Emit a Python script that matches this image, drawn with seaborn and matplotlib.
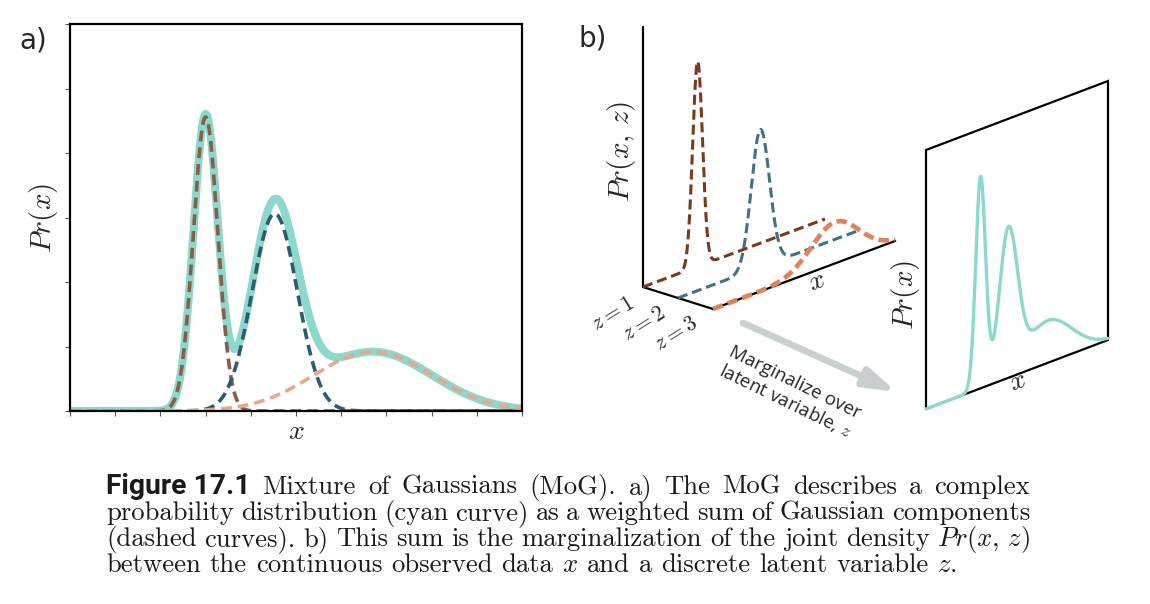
import numpy as np
import matplotlib
matplotlib.use("Agg")
import matplotlib.pyplot as plt
import seaborn as sns

# Mixture of Gaussians (x runs 0..10, y runs 0..6)
comp_names = ["z=1", "z=2", "z=3"]
comp_means = [3.0, 4.53, 6.7]
comp_sds = [0.27, 0.5, 1.3]
comp_peaks = [4.56, 3.06, 0.92]

cyan = "#8ad9cc"
colors_a = ["#8a5d44", "#2f5b6e", "#eaa68d"]
colors_b = ["#7b3a1b", "#3f7189", "#e0835d"]

x = np.linspace(0, 10, 801)
curves = [p * np.exp(-0.5 * ((x - m) / s) ** 2)
          for m, s, p in zip(comp_means, comp_sds, comp_peaks)]
total = np.sum(curves, axis=0)

sns.set_style("white")
plt.rcParams["mathtext.fontset"] = "cm"
plt.rcParams["font.family"] = ["DejaVu Sans"]

fig = plt.figure(figsize=(11.5, 6.04), dpi=100)

# ---- panel a ----
ax = fig.add_axes([70 / 1150, 1 - 411 / 604, 452 / 1150, 387 / 604])
sns.lineplot(x=x, y=total, ax=ax, color=cyan, lw=5.8, estimator=None, sort=False,
             solid_capstyle="round")
for k in range(3):
    sns.lineplot(x=x, y=curves[k], ax=ax, color=colors_a[k], lw=2.6,
                 linestyle=(0, (3.0, 1.65)), estimator=None, sort=False)
ax.set_xlim(0, 10)
ax.set_ylim(0, 6)
ax.set_xticks(range(11))
ax.set_yticks(range(7))
ax.set_xticklabels([])
ax.set_yticklabels([])
ax.tick_params(direction="out", length=3.5, width=0.8, color="#555555",
               bottom=True, left=True)
for s in ax.spines.values():
    s.set_linewidth(1.6)
    s.set_color("black")

# overlay in pixel coordinates for panel b, labels and caption
ov = fig.add_axes([0, 0, 1, 1])
ov.set_zorder(-1)

# ---- panel b, joint density drawn in oblique projection ----
O = np.array([643.0, 287.0])
D = np.array([35.0, 11.0])
X = np.array([182.0, -68.0])
Hb = 45.0
u = x / 10.0

ov.plot([643, 643], [287, 27], color="black", lw=1.6)
ov.plot([643, 713], [287, 309], color="black", lw=1.6)
ov.plot([713, 895], [309, 241], color="black", lw=1.6, solid_capstyle="projecting")

dash_b = [(0, (3.3, 1.6)), (0, (3.3, 1.6)), (0, (2.2, 1.1))]
lw_b = [2.2, 2.2, 3.4]
for k in range(3):
    sx = O[0] + k * D[0] + u * X[0]
    sy = O[1] + k * D[1] + u * X[1] - Hb * curves[k]
    sns.lineplot(x=sx, y=sy, ax=ov, color=colors_b[k], lw=lw_b[k],
                 linestyle=dash_b[k], estimator=None, sort=False)

# marginal panel
R0 = np.array([926.0, 409.0])
RX = np.array([182.0, -69.0])
Rh = 259.0
Hr = 46.0
px = [R0[0], R0[0] + RX[0], R0[0] + RX[0], R0[0], R0[0]]
py = [R0[1], R0[1] + RX[1], R0[1] + RX[1] - Rh, R0[1] - Rh, R0[1]]
ov.plot(px, py, color="black", lw=1.6, solid_joinstyle="miter")
sns.lineplot(x=R0[0] + u * RX[0], y=R0[1] + u * RX[1] - Hr * total, ax=ov,
             color=cyan, lw=2.4, estimator=None, sort=False)

ov.annotate("", xy=(897, 392), xytext=(743, 323),
            arrowprops=dict(arrowstyle="-|>,head_length=0.85,head_width=0.26",
                            lw=4.8, color="#c9cfce", mutation_scale=22,
                            shrinkA=0, shrinkB=0))

# ---- labels ----
ov.text(33, 41, "a)", fontsize=20, ha="center", va="center")
ov.text(593, 38, "b)", fontsize=20, ha="center", va="center")
ov.text(44, 218, "$Pr(x)$", fontsize=21, rotation=90, ha="center", va="center")
ov.text(296, 431, "$x$", fontsize=20, ha="center", va="center")
ov.text(622, 151, "$Pr(x,\\,z)$", fontsize=21, rotation=90, ha="center", va="center")
ov.text(816, 281, "$x$", fontsize=20, rotation=20, ha="center", va="center")
ov.text(905, 295, "$Pr(x)$", fontsize=21, rotation=90, ha="center", va="center")
ov.text(1017, 381, "$x$", fontsize=20, rotation=20, ha="center", va="center")
z_pos = [(613, 314), (644, 324), (676, 334)]
for name, (zx, zy) in zip(comp_names, z_pos):
    ov.text(zx, zy, "$" + name.replace("=", " = ") + "$", fontsize=16, rotation=32,
            ha="center", va="center")
ov.text(790, 392, "Marginalize over\nlatent variable, $z$", fontsize=13.5,
        family=["Open Sans", "DejaVu Sans"], rotation=-26, rotation_mode="anchor",
        ha="center", va="center", multialignment="center", linespacing=1.1)

ov.set_xlim(0, 1150)
ov.set_ylim(604, 0)
ov.axis("off")

# ---- caption, justified word by word ----
cap_size = 19.2
serif = dict(family=["cmr10"], fontsize=cap_size, color="#1a1a1a")
bold = dict(family=["Roboto", "DejaVu Sans"], fontsize=cap_size,
            fontweight="bold", color="#1a1a1a")
cap_lines = [
    [("Figure 17.1", bold)] + [(w, serif) for w in
     "Mixture of Gaussians (MoG). a) The MoG describes a complex".split()],
    [(w, serif) for w in
     "probability distribution (cyan curve) as a weighted sum of Gaussian components".split()],
    [(w, serif) for w in
     "(dashed curves). b) This sum is the marginalization of the joint density".split()]
    + [("$Pr(x,\\,z)$", serif)],
    [(w, serif) for w in
     "between the continuous observed data $x$ and a discrete latent variable $z.$".split()],
]
cap_base = [494, 520, 546, 572]
left, right = 106, 1030
renderer = fig.canvas.get_renderer()

# squeeze the bold label to the width it has in the figure (about 144 px)
probe = ov.text(0, 0, "Figure 17.1", **bold)
bw = probe.get_window_extent(renderer).width
probe.remove()
bold["fontsize"] = cap_size * 144 / bw
cap_lines[0][0] = ("Figure 17.1", bold)

space = 0.333 * cap_size * 100 / 72
for li, (tokens, yb) in enumerate(zip(cap_lines, cap_base)):
    texts = [ov.text(0, yb, t, ha="left", va="baseline", **p) for t, p in tokens]
    widths = [t.get_window_extent(renderer).width for t in texts]
    if li < len(cap_lines) - 1:
        gap = (right - left - sum(widths)) / (len(texts) - 1)
    else:
        gap = space
    cx = left
    for t, w in zip(texts, widths):
        t.set_x(cx)
        cx += w + gap

fig.savefig("out.png", dpi=100)
